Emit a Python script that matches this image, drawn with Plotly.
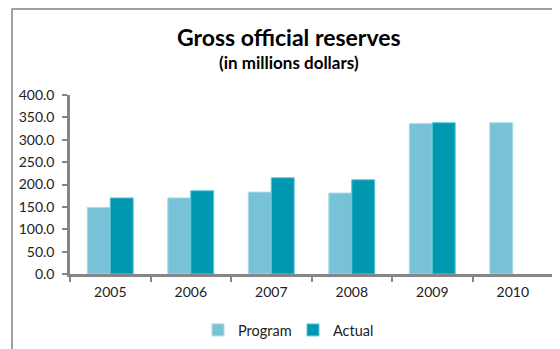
import plotly.graph_objects as go

years = ["2005", "2006", "2007", "2008", "2009", "2010"]
program = [148.5, 170.0, 183.0, 181.0, 336.0, 338.0]
actual = [170.0, 186.0, 215.0, 210.5, 338.0, None]
y_ticks = [0, 50, 100, 150, 200, 250, 300, 350, 400]
y_tick_labels = [f"{v:.1f}" for v in y_ticks]

# page body has an 8px margin, so the figure is sized to fill the rest of the window
OFF = 8
W, H = 560 - OFF, 349 - OFF
ml, mr, mt, mb = 62, 7, 87, 75
FONT = "Lato"

fig = go.Figure()
fig.add_bar(name="Program", x=years, y=program, marker=dict(color="#77C2D6", line=dict(color="#A8DCE8", width=1)))
fig.add_bar(name="Actual", x=years, y=actual, marker=dict(color="#0098B0", line=dict(color="#5CC6D8", width=1)))

pw = W - ml - mr
ph = H - mt - mb
def px2paper_x(x):
    return (x - OFF - ml) / pw
def px2paper_y(y):
    return (H - mb - (y - OFF)) / ph

fig.update_layout(
    width=W, height=H,
    margin=dict(l=ml, r=mr, t=mt, b=mb, autoexpand=False),
    paper_bgcolor="white", plot_bgcolor="white",
    barmode="group", bargap=0.43, bargroupgap=0,
    font=dict(family=FONT, size=12, color="#222222"),
    showlegend=True,
    legend=dict(orientation="h", x=px2paper_x(293), xanchor="center", y=px2paper_y(330), yanchor="middle",
                font=dict(size=14.5), itemwidth=30, traceorder="normal", entrywidth=50),
    xaxis=dict(type="category", showline=True, linecolor="#868686", linewidth=2.5,
               ticks="outside", tickson="boundaries", ticklen=5, tickcolor="#868686", tickwidth=2,
               tickfont=dict(size=14), showgrid=False, ticklabelstandoff=3),
    yaxis=dict(range=[0, 400], tickvals=y_ticks, ticktext=y_tick_labels, showline=True,
               linecolor="#868686", linewidth=2.5, ticks="outside", ticklen=5, tickcolor="#868686",
               tickwidth=2, showgrid=False, zeroline=False, tickfont=dict(size=14), ticklabelstandoff=5),
    annotations=[
        dict(text="<b>Gross official reserves</b>", xref="paper", yref="paper",
             x=px2paper_x(289), y=px2paper_y(37), xanchor="center", yanchor="middle",
             showarrow=False, font=dict(size=23, family=FONT, color="black")),
        dict(text="<b>(in millions dollars)</b>", xref="paper", yref="paper",
             x=px2paper_x(289), y=px2paper_y(63), xanchor="center", yanchor="middle",
             showarrow=False, font=dict(size=17, family=FONT, color="black")),
    ],
    shapes=[
        dict(type="line", xref="paper", yref="paper", x0=px2paper_x(12), x1=px2paper_x(12),
             y0=px2paper_y(8.5), y1=px2paper_y(352), line=dict(color="#A0A0A0", width=2)),
        dict(type="line", xref="paper", yref="paper", x0=px2paper_x(12), x1=px2paper_x(562),
             y0=px2paper_y(9), y1=px2paper_y(9), line=dict(color="#A0A0A0", width=2)),
    ],
)
fig.write_html("out.html")
